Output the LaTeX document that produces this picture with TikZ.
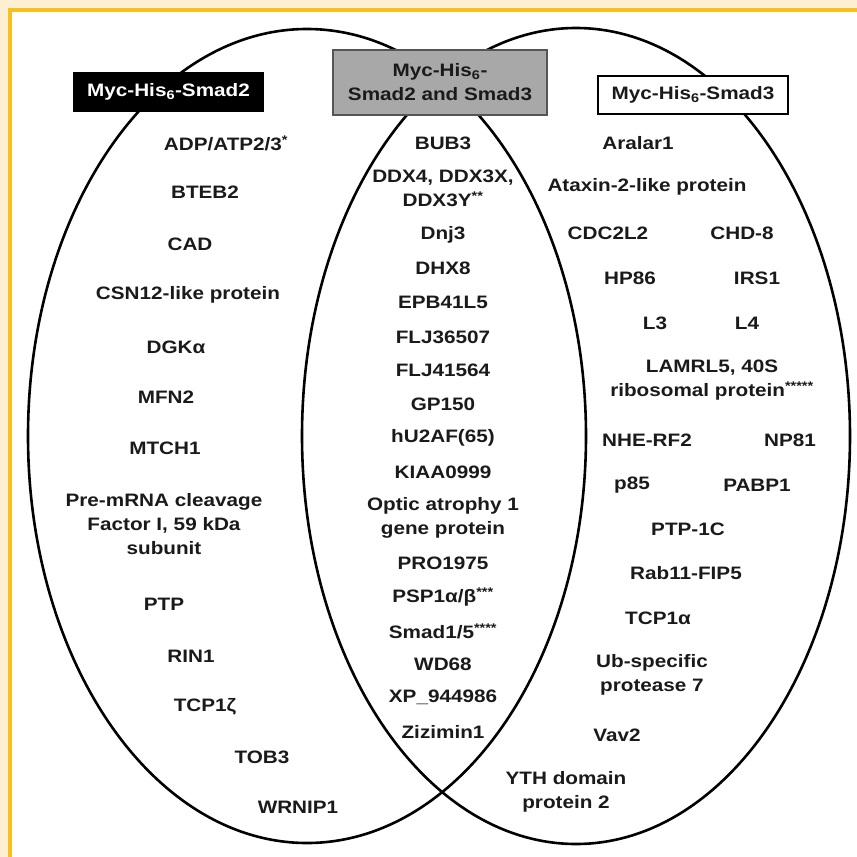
\documentclass[tikz,border=0pt]{standalone}
\usepackage{fontspec}
\setmainfont{Liberation Sans}[FakeStretch=1.15]
\definecolor{cream}{HTML}{FDEFD2}
\definecolor{frameyellow}{HTML}{F6C01E}
\definecolor{boxgray}{HTML}{A8A8A8}
\definecolor{boxedge}{HTML}{555555}
\definecolor{ink}{HTML}{1A1A1A}
\tikzset{
  lbl/.style={font=\bfseries\fontsize{18}{24}\selectfont, align=center, inner sep=0pt, text=ink},
  venn/.style={draw=black, line width=2.6pt},
  hdr/.style={font=\bfseries\fontsize{18}{24}\selectfont, align=center, inner sep=0pt, line width=1.5pt}
}
\newcommand{\sixsub}{\textsubscript{6}}
\begin{document}
\begin{tikzpicture}[x=1pt,y=-1pt]
\useasboundingbox (0,0) rectangle (857,857);
\fill[cream] (0,0) rectangle (857,857);
\fill[frameyellow] (8,8) rectangle (857,857);
\fill[white] (12,12) rectangle (857,857);
% circles
\draw[venn] (307,436) ellipse [x radius=279pt, y radius=407pt];
\draw[venn] (576,436) ellipse [x radius=274pt, y radius=408pt];
% header boxes
\node[hdr, fill=black, text=white, minimum width=191pt, minimum height=40pt] (h2) at (168.5,92) {Myc-His\sixsub-Smad2};
\node[hdr, fill=boxgray, draw=boxedge, text=ink, minimum width=214pt, minimum height=65pt] (h23) at (440,82.5) {Myc-His\sixsub-\\Smad2 and Smad3};
\node[hdr, fill=white, draw=black, text=ink, minimum width=190pt, minimum height=38pt] (h3) at (693,95) {Myc-His\sixsub-Smad3};
% Smad2 only
\node[lbl] (a1) at (226,143) {ADP/ATP2/3\textsuperscript{*}};
\node[lbl] (a2) at (205,192) {BTEB2};
\node[lbl] (a3) at (190,244) {CAD};
\node[lbl] (a4) at (188,295) {CSN12-like protein};
\node[lbl] (a5) at (176,347) {DGKα};
\node[lbl] (a6) at (166,397) {MFN2};
\node[lbl] (a7) at (165,448) {MTCH1};
\node[lbl] (a8) at (164,524) {Pre-mRNA cleavage\\Factor I, 59 kDa\\subunit};
\node[lbl] (a9) at (164,604) {PTP};
\node[lbl] (a10) at (191,656) {RIN1};
\node[lbl] (a11) at (205,707) {TCP1ζ};
\node[lbl] (a12) at (262,757) {TOB3};
\node[lbl] (a13) at (298,807) {WRNIP1};
% both
\node[lbl] (b1) at (443,143) {BUB3};
\node[lbl] (b2) at (443,188.5) {DDX4, DDX3X,\\DDX3Y\textsuperscript{**}};
\node[lbl] (b3) at (443,235) {Dnj3};
\node[lbl] (b4) at (443,268) {DHX8};
\node[lbl] (b5) at (443,302) {EPB41L5};
\node[lbl] (b6) at (443,337) {FLJ36507};
\node[lbl] (b7) at (443,370) {FLJ41564};
\node[lbl] (b8) at (443,404) {GP150};
\node[lbl] (b9) at (443,438) {hU2AF(65)};
\node[lbl] (b10) at (443,472) {KIAA0999};
\node[lbl] (b11) at (443,517.5) {Optic atrophy 1\\gene protein};
\node[lbl] (b12) at (443,563) {PRO1975};
\node[lbl] (b13) at (443,597) {PSP1α/β\textsuperscript{***}};
\node[lbl] (b14) at (443,631) {Smad1/5\textsuperscript{****}};
\node[lbl] (b15) at (443,664) {WD68};
\node[lbl] (b16) at (443,697) {XP\_944986};
\node[lbl] (b17) at (443,732) {Zizimin1};
% Smad3 only
\node[lbl] (c1) at (638,143) {Aralar1};
\node[lbl] (c2) at (647,187) {Ataxin-2-like protein};
\node[lbl] (c3) at (608,233) {CDC2L2};
\node[lbl] (c4) at (742,233) {CHD-8};
\node[lbl] (c5) at (630,278) {HP86};
\node[lbl] (c6) at (757,278) {IRS1};
\node[lbl] (c7) at (655,323) {L3};
\node[lbl] (c8) at (747,323) {L4};
\node[lbl] (c9) at (712,380) {LAMRL5, 40S\\ribosomal protein\textsuperscript{*****}};
\node[lbl] (c10) at (647,440) {NHE-RF2};
\node[lbl] (c11) at (790,440) {NP81};
\node[lbl] (c12) at (632,485) {p85};
\node[lbl] (c13) at (757,485) {PABP1};
\node[lbl] (c14) at (688,529) {PTP-1C};
\node[lbl] (c15) at (686,573) {Rab11-FIP5};
\node[lbl] (c16) at (658,618) {TCP1α};
\node[lbl] (c17) at (652,675) {Ub-specific\\protease 7};
\node[lbl] (c18) at (617,735) {Vav2};
\node[lbl] (c19) at (566,792) {YTH domain\\protein 2};
\end{tikzpicture}
\end{document}
